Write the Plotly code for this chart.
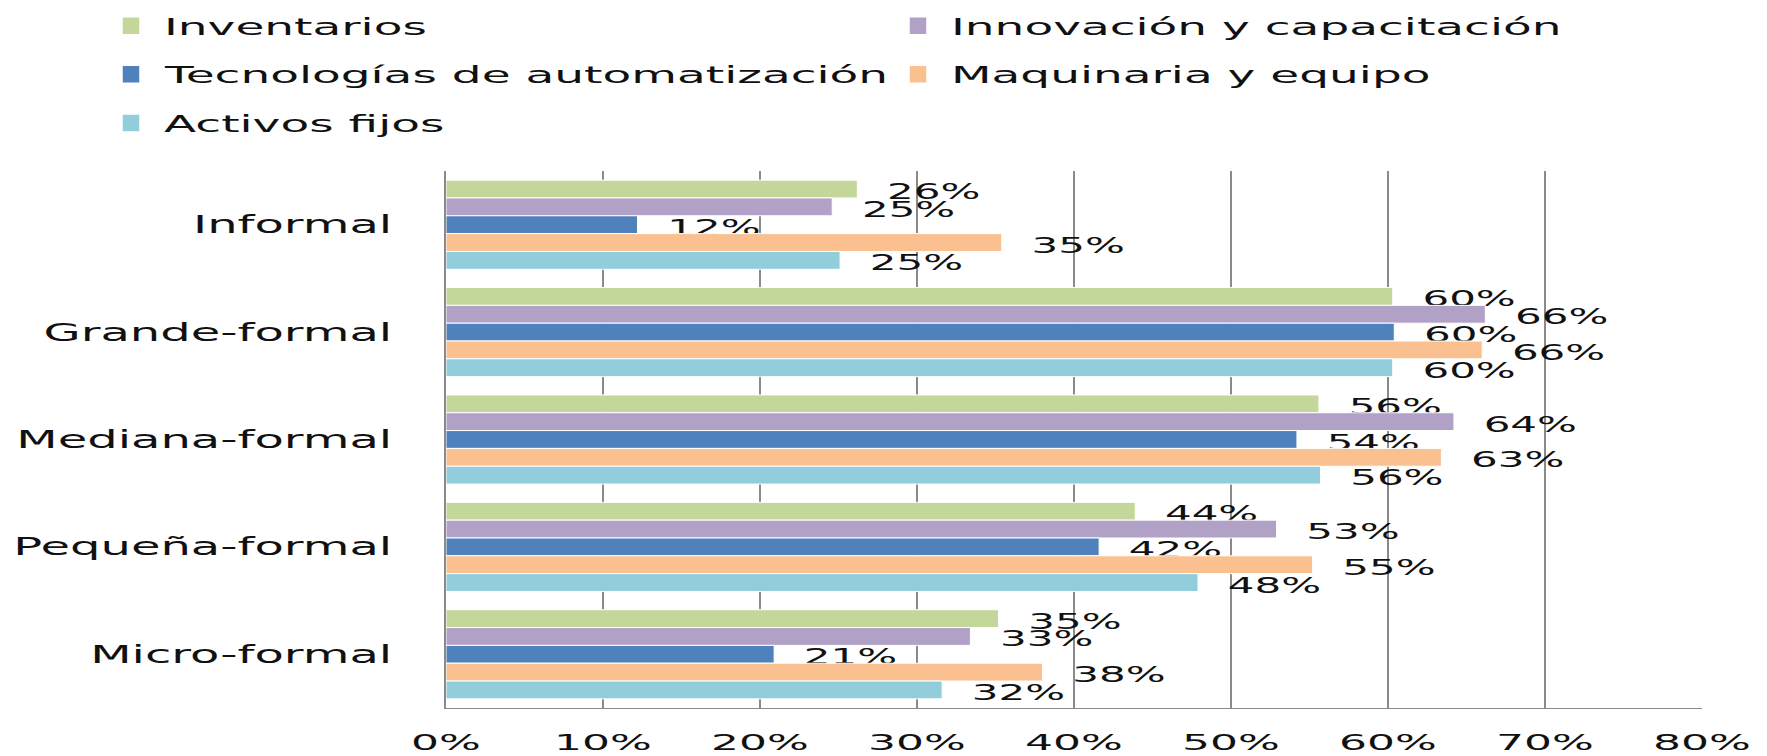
import plotly.graph_objects as go

categories = ["Informal", "Grande-formal", "Mediana-formal", "Pequeña-formal", "Micro-formal"]

series_names = [
    "Inventarios",
    "Innovación y capacitación",
    "Tecnologías de automatización",
    "Maquinaria y equipo",
    "Activos fijos",
]
inventarios = [26.2, 60.3, 55.6, 43.9, 35.2]
innovacion = [24.6, 66.2, 64.2, 52.9, 33.4]
tecnologias = [12.2, 60.4, 54.2, 41.6, 20.9]
maquinaria = [35.4, 66.0, 63.4, 55.2, 38.0]
activos = [25.1, 60.3, 55.7, 47.9, 31.6]

x_ticks = [0, 10, 20, 30, 40, 50, 60, 70, 80]
x_tick_labels = ["0%", "10%", "20%", "30%", "40%", "50%", "60%", "70%", "80%"]

colors = ["#C4D79B", "#B2A1C7", "#4F81BD", "#FAC090", "#92CDDC"]
legend_of = ["legend", "legend2", "legend", "legend2", "legend"]
values = [inventarios, innovacion, tecnologias, maquinaria, activos]

FONT = "DejaVu Sans"
TXT = "#111111"

fig = go.Figure()
for name, vals, col, lg in zip(series_names, values, colors, legend_of):
    fig.add_trace(go.Bar(
        name=name,
        y=categories,
        x=vals,
        orientation="h",
        marker=dict(color=col, line=dict(color="white", width=1)),
        texttemplate="\u00a0\u00a0%{x:.0f}%",
        textposition="outside",
        outsidetextfont=dict(family=FONT, size=21, color=TXT),
        constraintext="none",
        cliponaxis=False,
        legend=lg,
        legendgroup=name,
        hoverinfo="skip",
    ))

fig.update_layout(
    width=1767,
    height=756,
    barmode="group",
    bargap=0.17,
    bargroupgap=0,
    paper_bgcolor="white",
    plot_bgcolor="white",
    margin=dict(l=446, r=65, t=171, b=48, autoexpand=False),
    font=dict(family=FONT, color=TXT),
    xaxis=dict(
        range=[0, 80],
        tickvals=x_ticks,
        ticktext=x_tick_labels,
        tickangle=0,
        showgrid=True,
        gridcolor="#8A8A8A",
        gridwidth=2,
        zeroline=False,
        showline=True,
        linecolor="#8A8A8A",
        linewidth=1,
        ticks="",
        ticklabelstandoff=15,
        tickfont=dict(family=FONT, size=22, color=TXT),
        automargin=False,
    ),
    yaxis=dict(
        autorange="reversed",
        showgrid=False,
        zeroline=False,
        showline=True,
        linecolor="#8A8A8A",
        linewidth=2,
        ticks="",
        ticklabelstandoff=47,
        tickfont=dict(family=FONT, size=24, color=TXT),
        automargin=False,
    ),
    legend=dict(
        orientation="v",
        xref="container", yref="container",
        x=124 / 1767, y=1 - 4 / 756,
        xanchor="left", yanchor="top",
        font=dict(family=FONT, size=23.5, color=TXT),
        tracegroupgap=15,
        itemwidth=30,
        bgcolor="rgba(0,0,0,0)",
    ),
    legend2=dict(
        orientation="v",
        xref="container", yref="container",
        x=911 / 1767, y=1 - 4 / 756,
        xanchor="left", yanchor="top",
        font=dict(family=FONT, size=23.5, color=TXT),
        tracegroupgap=15,
        itemwidth=30,
        bgcolor="rgba(0,0,0,0)",
    ),
    showlegend=True,
)

# The reference image is horizontally stretched (about 2x); emulate the wide
# lettering by scaling each text element horizontally around its anchor.
stretch_js = """
document.body.style.margin = '0';
var gd = document.getElementById('{plot_id}');
var SX = 2.0;
function stretchText(){
  gd.querySelectorAll('[clip-path*="legend"]').forEach(function(el){
    el.removeAttribute('clip-path');
  });
  gd.querySelectorAll('g.legendpoints path').forEach(function(p){
    p.setAttribute('transform', 'translate(7,0) scale(1.5)');
  });
  var nodes = gd.querySelectorAll('svg text');
  nodes.forEach(function(t){
    if (!t.textContent) return;
    var cur = t.getAttribute('transform') || '';
    var sfx = t.getAttribute('data-sfx');
    if (sfx && cur.endsWith(sfx)) { cur = cur.slice(0, cur.length - sfx.length); }
    t.setAttribute('transform', cur);
    var b = t.getBBox();
    var anchor = t.getAttribute('text-anchor') || window.getComputedStyle(t).textAnchor || 'start';
    var isBar = t.classList.contains('bartext');
    var ax;
    if (isBar || anchor === 'start') { ax = b.x; }
    else if (anchor === 'end') { ax = b.x + b.width; }
    else { ax = b.x + b.width / 2; }
    var dy = isBar ? 3 : 0;
    var s = ' translate(' + ax + ',' + dy + ') scale(' + SX + ',1) translate(' + (-ax) + ',0)';
    t.setAttribute('data-sfx', s);
    t.setAttribute('transform', cur + s);
  });
}
stretchText();
gd.on('plotly_afterplot', stretchText);
"""

fig.write_html("out.html", config={"displayModeBar": False}, post_script=stretch_js)
